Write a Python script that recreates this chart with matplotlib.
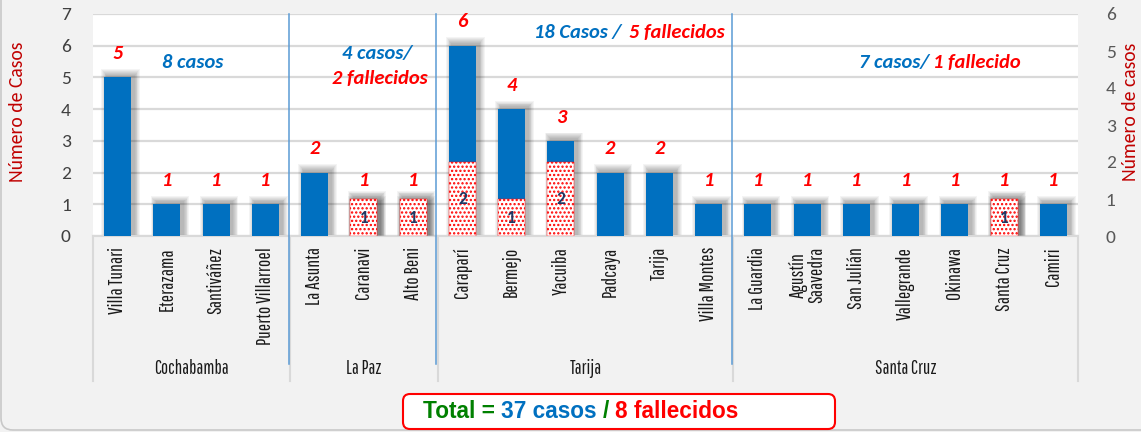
import matplotlib
matplotlib.use('Agg')
import matplotlib.pyplot as plt
from matplotlib import font_manager
from matplotlib.font_manager import FontProperties
from matplotlib.patches import FancyBboxPatch, Rectangle
from matplotlib.offsetbox import TextArea, HPacker, AnchoredOffsetbox

W, H = 1141, 432

municipios = ['Villa Tunari', 'Eterazama', 'Santiváñez', 'Puerto Villarroel',
              'La Asunta', 'Caranavi', 'Alto Beni',
              'Caraparí', 'Bermejo', 'Yacuiba', 'Padcaya', 'Tarija', 'Villa Montes',
              'La Guardia', 'Agustín\nSaavedra', 'San Julián', 'Vallegrande',
              'Okinawa', 'Santa Cruz', 'Camiri']
casos = [5, 1, 1, 1, 2, 1, 1, 6, 4, 3, 2, 2, 1, 1, 1, 1, 1, 1, 1, 1]
fallecidos = [0, 0, 0, 0, 0, 1, 1, 2, 1, 2, 0, 0, 0, 0, 0, 0, 0, 0, 1, 0]
departamentos = ['Cochabamba', 'La Paz', 'Tarija', 'Santa Cruz']
n_por_depto = [4, 3, 6, 7]

azul = '#0070c0'
rojo = '#ff0000'
verde = '#008000'
navy = '#1f3864'
gris = '#d9d9d9'
sep_azul = '#5b9bd5'


def primera(*nombres):
    for n in nombres:
        try:
            font_manager.findfont(FontProperties(family=[n]), fallback_to_default=False)
            return n
        except ValueError:
            pass
    return 'DejaVu Sans'


main_font = primera('Carlito', 'Open Sans')
cat_font = primera('Pathway Gothic One', 'BenchNine', 'Antonio', 'Oswald',
                   'Roboto Condensed', 'Liberation Sans Narrow', 'DejaVu Sans')

plt.rcParams['hatch.linewidth'] = 1.1

fig = plt.figure(figsize=(W / 100, H / 100), dpi=100, facecolor='#f2f2f2')
renderer = fig.canvas.get_renderer()


def ajustar(textos, ref, target_px, vertical=False):
    # scale font size so that the reference text spans target_px
    bb = ref.get_window_extent(renderer)
    actual = bb.height if vertical else bb.width
    k = target_px / actual
    for t in textos:
        t.set_fontsize(t.get_fontsize() * k)


fig.add_artist(FancyBboxPatch((0.01, 0.02), 11.8, 4.6,
                              boxstyle='round,pad=0,rounding_size=0.12',
                              transform=fig.dpi_scale_trans, facecolor='#f2f2f2',
                              edgecolor='#c8c8c8', lw=1.2, zorder=-5))

ax = fig.add_axes([93 / W, 196 / H, 985 / W, 222 / H])
ax.set_facecolor('white')
ax.set_xlim(-0.5, len(municipios) - 0.5)
ax.set_ylim(0, 7)
ax.set_yticks(range(0, 8))
ax.grid(axis='y', color=gris, lw=1.6, zorder=0)
ax.set_axisbelow(True)
ax.set_xticks([])
for s in ['top', 'left', 'right']:
    ax.spines[s].set_visible(False)
ax.spines['bottom'].set_color(gris)
ax.spines['bottom'].set_linewidth(1.5)
ax.tick_params(axis='y', length=0, pad=16, labelsize=14, labelcolor='#404040')
for lab in ax.get_yticklabels():
    lab.set_family(main_font)

ax2 = ax.twinx()
ax2.set_ylim(0, 6)
ax2.set_yticks(range(0, 7))
for s in ax2.spines.values():
    s.set_visible(False)
ax2.tick_params(axis='y', length=0, pad=20, labelsize=14, labelcolor='#595959')
for lab in ax2.get_yticklabels():
    lab.set_family(main_font)
if main_font != 'Carlito':
    for lab in ax.get_yticklabels() + ax2.get_yticklabels():
        lab.set_fontsize(12)

bw = 0.55
px_x = len(municipios) / 985.0
px_y1 = 7 / 222.0
px_y2 = 6 / 222.0


def sombra(a, x, h, py):
    # fake blurred shadow: stacked translucent rectangles
    for s in range(1, 8):
        a.add_patch(Rectangle((x - bw / 2 + 3 * px_x - s * px_x * 0.8, 0),
                              bw + 1.6 * s * px_x, h + (2 + s * 0.9) * py,
                              facecolor='black', alpha=0.045, lw=0, zorder=1))


x = list(range(len(municipios)))
for i, c in enumerate(casos):
    sombra(ax, i, c, px_y1)
ax.bar(x, casos, width=bw, color=azul, zorder=3)

nota = dict(fontsize=14, fontweight='bold', fontstyle='italic', family=main_font, zorder=6)
valores = []
for i, c in enumerate(casos):
    valores.append(ax.text(i, c + 0.75, str(c), ha='center', va='center', color=rojo, **nota))

xf = [i for i, f in enumerate(fallecidos) if f > 0]
vf = [fallecidos[i] for i in xf]
for i, f in zip(xf, vf):
    if f * 7 / 6 >= casos[i]:
        sombra(ax2, i, f, px_y2)
ax2.bar(xf, vf, width=bw, color='white', edgecolor=rojo, hatch='....', lw=0.3, zorder=3)
for i, f in zip(xf, vf):
    ax2.text(i, f / 2, str(f), ha='center', va='center', color=navy,
             fontsize=12.5 if main_font == 'Carlito' else 10.5, fontweight='bold',
             family=main_font, zorder=5)

# department separators and labels
tr = ax2.get_xaxis_transform()
limites = [-0.5]
for n in n_por_depto:
    limites.append(limites[-1] + n)
for b in limites:
    ax2.plot([b, b], [0, -0.653], transform=tr, color=gris, lw=1.5, clip_on=False, zorder=2)
for b in limites[1:-1]:
    ax2.plot([b - 0.03, b - 0.03], [1, -0.577], transform=tr, color=sep_azul, lw=1.1,
             clip_on=False, zorder=6)
deptos = []
for k, d in enumerate(departamentos):
    cx = (limites[k] + limites[k + 1]) / 2
    deptos.append(ax2.text(cx, -0.599, d, transform=tr, ha='center', va='center',
                           fontsize=12, family=cat_font, color='#1a1a1a'))
ajustar(deptos, deptos[0], 75)

cats = []
for i, m in enumerate(municipios):
    cats.append(ax2.text(i, -0.0495, m, transform=tr, rotation=90, ha='center', va='top',
                         multialignment='center', fontsize=12, family=cat_font,
                         color='#1a1a1a', linespacing=0.95))
ajustar(cats, cats[3], 97, vertical=True)

# group notes
notas = [
    ax.text(1.53, 5.46, '8 casos', ha='center', va='center', color=azul, **nota),
    ax.text(5.27, 5.74, '4 casos/', ha='center', va='center', color=azul, **nota),
    ax.text(5.33, 4.98, '2 fallecidos', ha='center', va='center', color=rojo, **nota),
    ax.text(10.22, 6.43, '18 Casos /', ha='right', va='center', color=azul, **nota),
    ax.text(10.38, 6.43, '5 fallecidos', ha='left', va='center', color=rojo, **nota),
    ax.text(16.48, 5.46, '7 casos/', ha='right', va='center', color=azul, **nota),
    ax.text(16.56, 5.46, '1 fallecido', ha='left', va='center', color=rojo, **nota),
]
ajustar(notas + valores, notas[0], 61)

# axis titles
t1 = fig.text(18 / W, 1 - 112 / H, 'Número de Casos', rotation=90, ha='center', va='center',
              color='#c00000', fontsize=13, family=main_font)
t2 = fig.text(1130 / W, 1 - 112 / H, 'Número de casos', rotation=90, ha='center',
              va='center', color='#c00000', fontsize=13, family=main_font)
ajustar([t1, t2], t1, 140, vertical=True)

# total box
fig.add_artist(FancyBboxPatch((4.03, 0.03), 4.32, 0.35,
                              boxstyle='round,pad=0,rounding_size=0.07',
                              transform=fig.dpi_scale_trans, facecolor='white',
                              edgecolor=rojo, lw=1.5, zorder=5))
tp = dict(fontsize=16.3, fontweight='bold', family='Liberation Sans')
partes = [('Total =', verde), ('37 casos', azul), ('/', verde), ('8 fallecidos', rojo)]
pack = HPacker(children=[TextArea(t, textprops=dict(color=col, **tp)) for t, col in partes],
               sep=4.5, pad=0, align='baseline')
box = AnchoredOffsetbox(loc='center', child=pack, frameon=False, pad=0, borderpad=0,
                        bbox_to_anchor=(580.5 / W, 20 / H), bbox_transform=fig.transFigure)
box.set_zorder(6)
fig.add_artist(box)

fig.savefig('out.png', dpi=100, facecolor=fig.get_facecolor())
